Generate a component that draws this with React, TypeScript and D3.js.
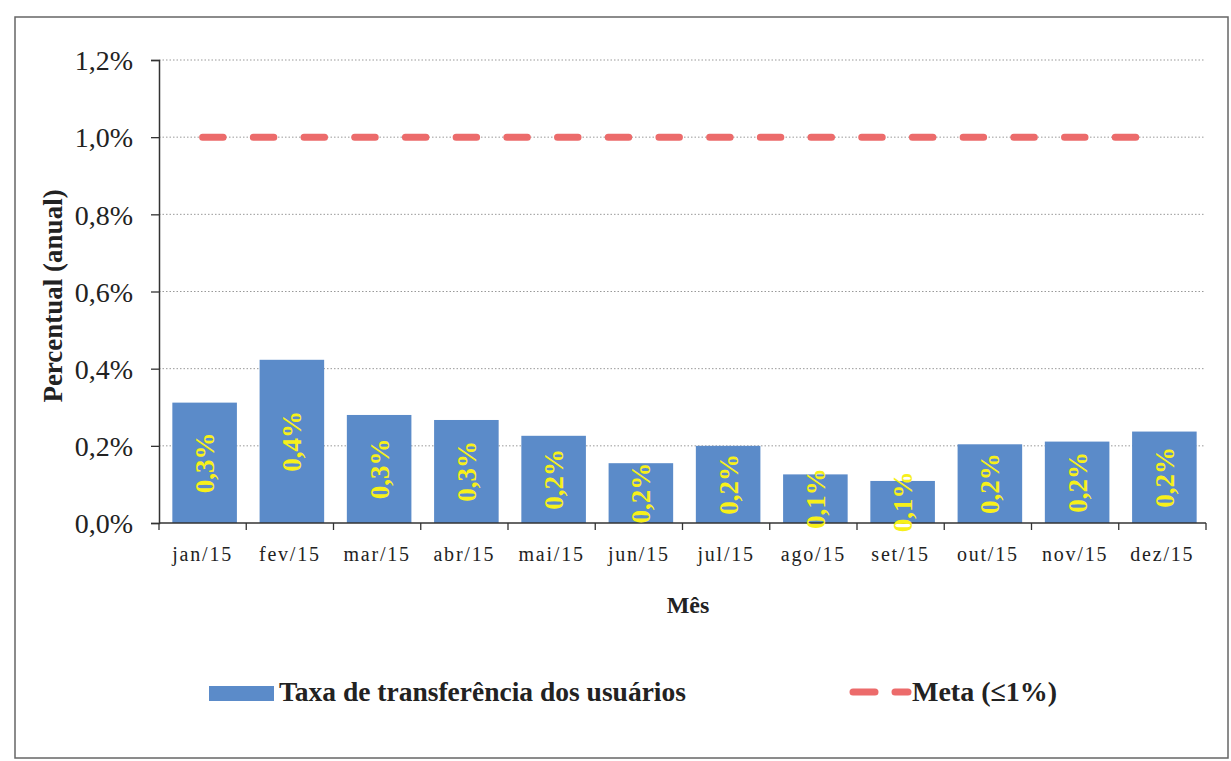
import React, { useEffect, useRef } from "react";
import * as d3 from "d3";

// meses e valores (% anual)
const months = ["jan/15", "fev/15", "mar/15", "abr/15", "mai/15", "jun/15", "jul/15", "ago/15", "set/15", "out/15", "nov/15", "dez/15"];
const taxaValues = [0.312, 0.423, 0.28, 0.267, 0.226, 0.155, 0.2, 0.126, 0.109, 0.204, 0.211, 0.237];
const metaValue = 1.0;
const yTicks = [0, 0.2, 0.4, 0.6, 0.8, 1.0, 1.2];
const serieNames = ["Taxa de transferência dos usuários", "Meta (≤1%)"];

const fmt = (v: number, d: number) => `${v.toFixed(d).replace(".", ",")}%`;

const App: React.FC = () => {
  const svgRef = useRef<SVGSVGElement | null>(null);

  useEffect(() => {
    if (!svgRef.current) return;
    const svg = d3.select(svgRef.current);
    svg.selectAll("*").remove();

    const W = 1231, H = 761;
    const margin = { top: 60, left: 159, right: 1206, bottom: 523 };
    const font = "'Liberation Serif', 'Times New Roman', serif";
    const barColor = "#5B8BC9";
    const metaColor = "#EC6B6B";

    svg.attr("width", W).attr("height", H);

    svg.append("rect").attr("width", W).attr("height", H).attr("fill", "#fff");

    // moldura
    svg.append("rect")
      .attr("x", 15).attr("y", 17).attr("width", 1213).attr("height", 741)
      .attr("fill", "none").attr("stroke", "#666").attr("stroke-width", 1.5);

    const x = d3.scaleBand<string>().domain(months).range([margin.left, margin.right]).padding(0);
    const y = d3.scaleLinear().domain([0, 1.2]).range([margin.bottom, margin.top]);

    // grade pontilhada
    svg.append("g")
      .selectAll("line")
      .data(yTicks.filter((t) => t > 0))
      .enter()
      .append("line")
      .attr("x1", margin.left).attr("x2", margin.right - 2)
      .attr("y1", (d) => y(d)).attr("y2", (d) => y(d))
      .attr("stroke", "#999").attr("stroke-width", 1).attr("stroke-dasharray", "1.5 2");

    // eixo Y
    const yAxis = svg.append("g")
      .attr("transform", `translate(${margin.left},0)`)
      .call(d3.axisLeft(y).tickValues(yTicks).tickSize(8).tickPadding(18).tickFormat((d) => fmt(d as number, 1)));
    yAxis.select(".domain").attr("stroke", "#333").attr("stroke-width", 1.5);
    yAxis.selectAll(".tick line").attr("stroke", "#333").attr("stroke-width", 1.3);
    yAxis.selectAll("text")
      .style("font-family", font).style("font-size", "28px").attr("fill", "#222").attr("dy", "0.35em");

    // barras
    const barW = x.bandwidth() * 0.74;
    svg.append("g")
      .selectAll("rect")
      .data(taxaValues)
      .enter()
      .append("rect")
      .attr("x", (_, i) => (x(months[i]) ?? 0) + (x.bandwidth() - barW) / 2 + 2)
      .attr("y", (d) => y(d))
      .attr("width", barW)
      .attr("height", (d) => y(0) - y(d))
      .attr("fill", barColor);

    // eixo X
    const xAxisG = svg.append("g").attr("transform", `translate(0,${margin.bottom})`);
    xAxisG.append("line")
      .attr("x1", margin.left).attr("x2", margin.right)
      .attr("stroke", "#333").attr("stroke-width", 1.5);
    xAxisG.selectAll("line.tk")
      .data([...months.map((m) => x(m) ?? 0), margin.right])
      .enter()
      .append("line")
      .attr("class", "tk")
      .attr("x1", (d) => d).attr("x2", (d) => d)
      .attr("y1", 0).attr("y2", 7)
      .attr("stroke", "#333").attr("stroke-width", 1.3);
    xAxisG.selectAll("text")
      .data(months)
      .enter()
      .append("text")
      .attr("x", (d) => (x(d) ?? 0) + x.bandwidth() / 2)
      .attr("y", 38)
      .attr("text-anchor", "middle")
      .style("font-family", font).style("font-size", "20px").style("letter-spacing", "1.8px")
      .attr("fill", "#222")
      .text((d) => d);

    // linha da meta
    svg.append("line")
      .attr("x1", (x(months[0]) ?? 0) + x.bandwidth() / 2)
      .attr("x2", (x(months[months.length - 1]) ?? 0) + x.bandwidth() / 2)
      .attr("y1", y(metaValue)).attr("y2", y(metaValue))
      .attr("stroke", metaColor).attr("stroke-width", 7)
      .attr("stroke-linecap", "round").attr("stroke-dasharray", "20.5 30.2");

    // rótulos de dados
    svg.append("g")
      .selectAll("text")
      .data(taxaValues)
      .enter()
      .append("text")
      .attr("transform", (d, i) => {
        const cx = (x(months[i]) ?? 0) + x.bandwidth() / 2 + 2;
        const cy = (y(d) + y(0)) / 2;
        return `translate(${cx},${cy}) rotate(-90)`;
      })
      .attr("text-anchor", "middle")
      .attr("dy", "0.35em")
      .style("font-family", font).style("font-size", "27px").style("font-weight", "bold")
      .attr("fill", "#F7F01A")
      .text((d) => fmt(d, 1));

    // títulos dos eixos
    svg.append("text")
      .attr("x", 688).attr("y", 613)
      .attr("text-anchor", "middle")
      .style("font-family", font).style("font-size", "24px").style("font-weight", "bold")
      .attr("fill", "#222")
      .text("Mês");

    svg.append("text")
      .attr("transform", "translate(62,296) rotate(-90)")
      .attr("text-anchor", "middle")
      .style("font-family", font).style("font-size", "27px").style("font-weight", "bold")
      .attr("fill", "#222")
      .text("Percentual (anual)");

    // legenda
    const legend = svg.append("g");
    legend.append("rect")
      .attr("x", 209).attr("y", 686).attr("width", 65).attr("height", 15)
      .attr("fill", barColor);
    legend.append("text")
      .attr("x", 279).attr("y", 701)
      .style("font-family", font).style("font-size", "27.5px").style("font-weight", "bold")
      .attr("fill", "#222")
      .text(serieNames[0]);
    legend.append("line")
      .attr("x1", 853).attr("x2", 908).attr("y1", 692).attr("y2", 692)
      .attr("stroke", metaColor).attr("stroke-width", 7)
      .attr("stroke-linecap", "round").attr("stroke-dasharray", "22 20");
    legend.append("text")
      .attr("x", 912).attr("y", 701)
      .style("font-family", font).style("font-size", "28px").style("font-weight", "bold")
      .attr("fill", "#222")
      .text(serieNames[1]);
  }, []);

  return (
    <div style={{ position: "absolute", left: 0, top: 0 }}>
      <svg ref={svgRef} style={{ display: "block" }}></svg>
    </div>
  );
};

export default App;
